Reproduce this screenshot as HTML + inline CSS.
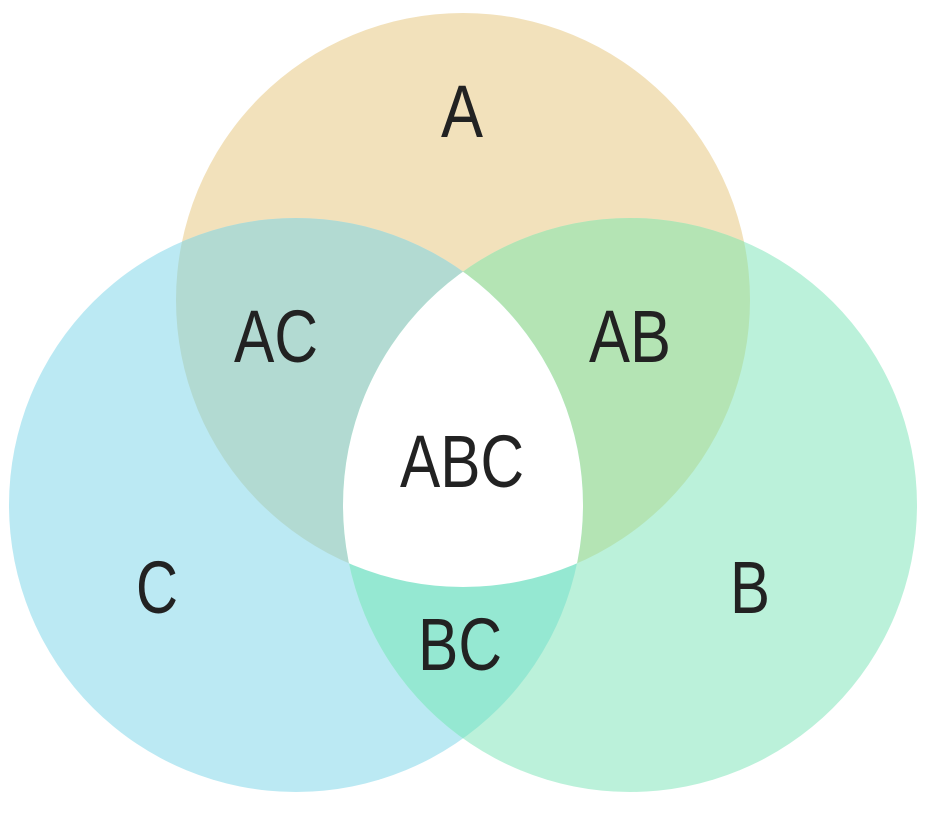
<!DOCTYPE html>
<html><head><meta charset="utf-8"><style>html,body{margin:0;padding:0;background:#fff}svg{display:block}</style></head>
<body>
<svg width="938" height="820" viewBox="0 0 938 820" xmlns="http://www.w3.org/2000/svg">
<defs>
<clipPath id="cA"><circle cx="463" cy="300" r="287"/></clipPath>
<clipPath id="cB"><circle cx="630" cy="505" r="287"/></clipPath>
<clipPath id="cC"><circle cx="296" cy="505" r="287"/></clipPath>
</defs>
<circle cx="463" cy="300" r="287" fill="#f2e1bb"/>
<circle cx="296" cy="505" r="287" fill="#bbe9f3"/>
<circle cx="630" cy="505" r="287" fill="#bbf1da"/>
<g clip-path="url(#cA)"><circle cx="296" cy="505" r="287" fill="#b2dad2"/><circle cx="630" cy="505" r="287" fill="#b4e4b4"/></g>
<g clip-path="url(#cB)"><circle cx="296" cy="505" r="287" fill="#95e8d2"/></g>
<g clip-path="url(#cA)"><g clip-path="url(#cB)"><circle cx="296" cy="505" r="287" fill="#ffffff"/></g></g>
<g font-family="Liberation Sans, sans-serif" font-size="74" fill="#222">
<text x="462" y="137" text-anchor="middle" textLength="42" lengthAdjust="spacingAndGlyphs">A</text>
<text x="276" y="362" text-anchor="middle" textLength="84" lengthAdjust="spacingAndGlyphs">AC</text>
<text x="630" y="362" text-anchor="middle" textLength="82" lengthAdjust="spacingAndGlyphs">AB</text>
<text x="462" y="487" text-anchor="middle" textLength="124" lengthAdjust="spacingAndGlyphs">ABC</text>
<text x="157" y="613" text-anchor="middle" textLength="42" lengthAdjust="spacingAndGlyphs">C</text>
<text x="750" y="613" text-anchor="middle" textLength="40" lengthAdjust="spacingAndGlyphs">B</text>
<text x="460" y="670" text-anchor="middle" textLength="84" lengthAdjust="spacingAndGlyphs">BC</text>
</g>
</svg>
</body></html>
